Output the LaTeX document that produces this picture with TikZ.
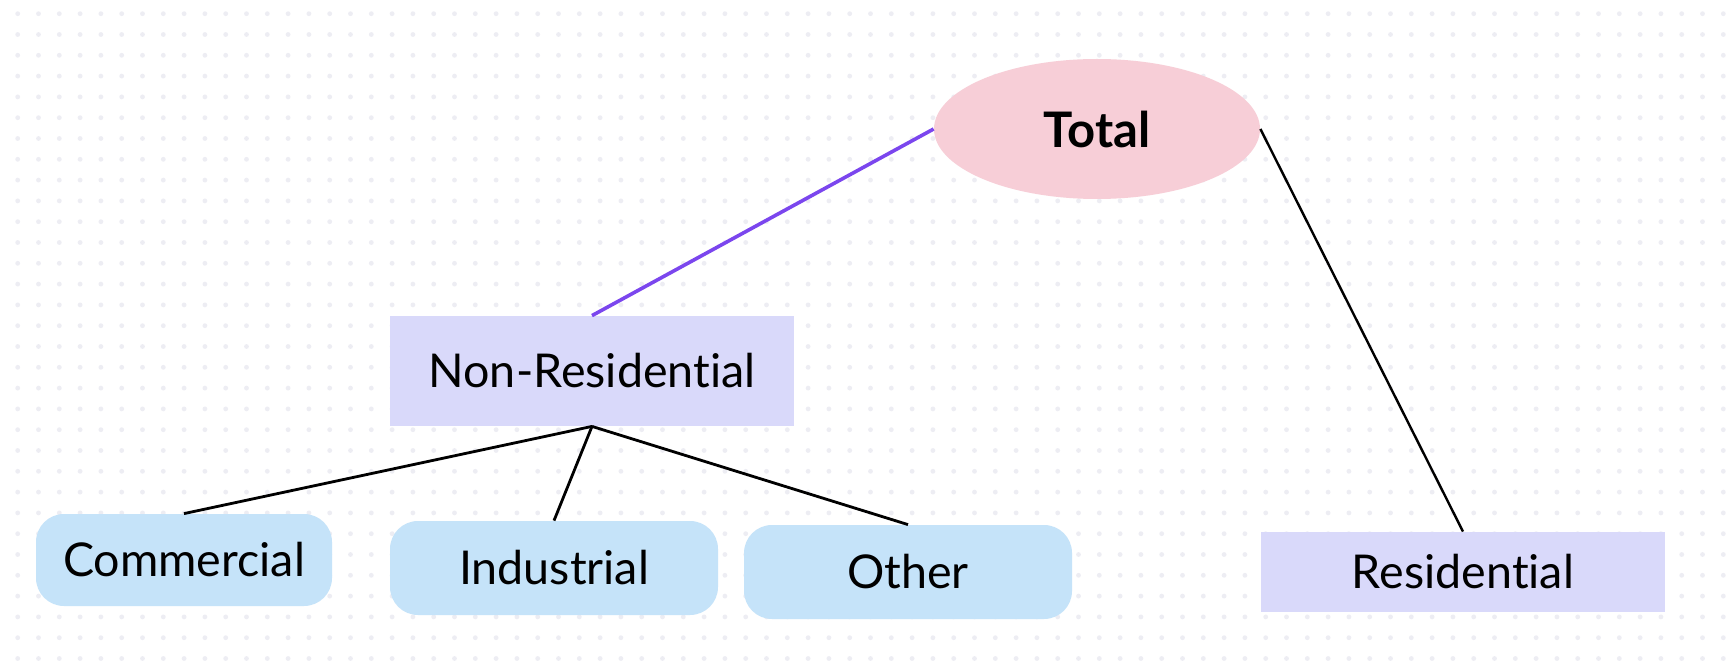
\documentclass[tikz,border=0pt]{standalone}
\usepackage{fontspec}
\setmainfont{Lato}[Ligatures={NoCommon,NoContextual}]
\usetikzlibrary{shapes.geometric}
\usetikzlibrary{positioning}
\definecolor{dotgrey}{HTML}{EDEDF3}
\definecolor{totalpink}{HTML}{F7CED7}
\definecolor{grouplilac}{HTML}{D9D9FA}
\definecolor{leafblue}{HTML}{C5E3F9}
\definecolor{linkpurple}{HTML}{7B46EE}
\tikzset{
  label font/.style = {
    font=\fontsize{23.3}{27}\selectfont
  },
  total/.style = {
    ellipse, fill=totalpink, minimum width=163pt, minimum height=70pt,
    font=\fontsize{24.5}{28}\selectfont\bfseries
  },
  group/.style = {
    rectangle, fill=grouplilac, label font
  },
  leaf/.style = {
    rectangle, rounded corners=14pt, fill=leafblue,
    minimum width=164pt, minimum height=47pt, label font
  },
  link/.style = {
    line width=1.4pt, draw=black
  },
}
\begin{document}
\begin{tikzpicture}[x=0.5pt,y=-0.5pt]
  \useasboundingbox [fill=white] (0,0) rectangle (1734,668);

  % dotted background
  \foreach \i in {0,...,82} {
    \foreach \j in {0,...,31} {
      \fill [dotgrey] ({17.7+20.8*\i},{13.7+20.8*\j}) circle (1.2pt);
    }
  }

  \node [total] (total) at (1097,129) {Total};
  \node [group,minimum width=202pt,minimum height=55pt] (nonres) at (592,371) {Non-Residential};
  \node [group,minimum width=202pt,minimum height=40pt] (res) at (1463,572) {Residential};

  \node [leaf,minimum width=148pt,minimum height=46pt] (commercial) at (184,560) {Commercial};
  \node [leaf] (industrial) at (554,568) {Industrial};
  \node [leaf] (other) at (908,572) {Other};

  \draw [link,draw=linkpurple,line width=1.8pt] (total.west) -- (nonres.north);
  \draw [link,line width=1.2pt] (total.east) -- (res.north);

  \draw [link] (nonres.south) -- (commercial.north);
  \draw [link] (nonres.south) -- (industrial.north);
  \draw [link] (nonres.south) -- (other.north);
\end{tikzpicture}
\end{document}
